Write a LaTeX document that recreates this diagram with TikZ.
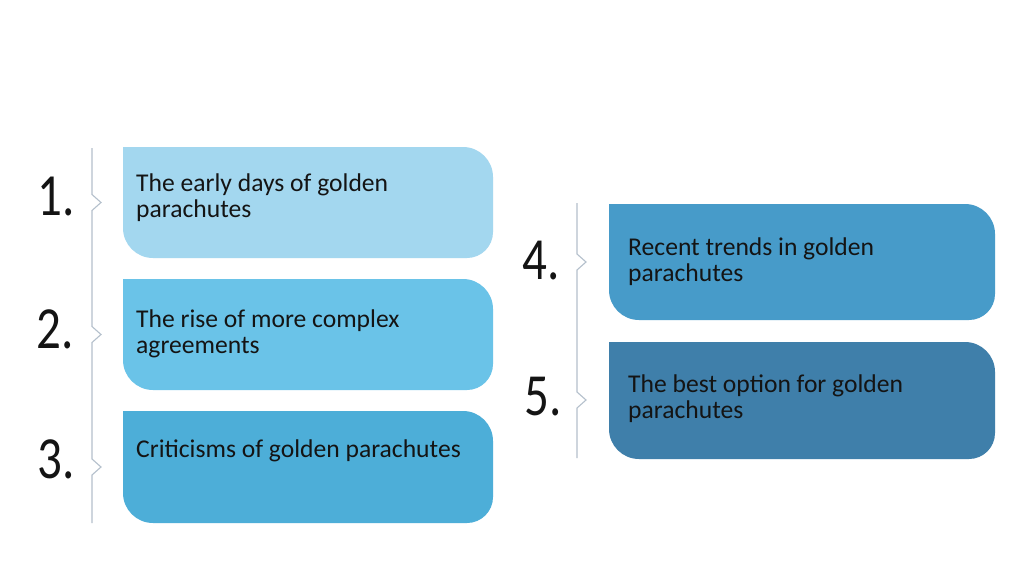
\documentclass[tikz,border=0pt]{standalone}
\usepackage{fontspec}
\setmainfont{Carlito}
\definecolor{cA}{HTML}{A3D7EF}
\definecolor{cB}{HTML}{6AC3E8}
\definecolor{cC}{HTML}{4DAED8}
\definecolor{cD}{HTML}{479BC9}
\definecolor{cE}{HTML}{3F7FAA}
\definecolor{brk}{HTML}{B4C0CC}
\definecolor{ink}{HTML}{141414}
\newcommand{\fancybox}[2]{%
  \fill[#2] (#1.north west) -- ([xshift=-30pt]#1.north east) arc[start angle=90,end angle=0,radius=30pt]
    -- ([yshift=26pt]#1.south east) arc[start angle=0,end angle=-90,radius=26pt]
    -- ([xshift=30pt]#1.south west) arc[start angle=270,end angle=180,radius=30pt] -- cycle;}
\tikzset{
  boxnode/.style={rectangle,inner sep=0pt,outer sep=0pt,minimum width=#1},
  txt/.style={inner sep=0pt,align=left,text=ink,font=\fontsize{25.6}{26}\selectfont,anchor=base west},
  num/.style={inner sep=0pt,text=ink,font=\fontsize{49}{49}\selectfont},
  bracket/.style={draw=brk,line width=1.1pt,line join=miter}
}
\begin{document}
\begin{tikzpicture}[x=1pt,y=-1pt]
\fill[white] (0,0) rectangle (1024,575);
\useasboundingbox (0,0) rectangle (1024,575);
% boxes
\node[boxnode=370pt,minimum height=111pt] (b1) at (308,202.5) {};
\node[boxnode=370pt,minimum height=111pt] (b2) at (308,334.5) {};
\node[boxnode=370pt,minimum height=112pt] (b3) at (308,467) {};
\node[boxnode=386pt,minimum height=116pt] (b4) at (802,262) {};
\node[boxnode=386pt,minimum height=117pt] (b5) at (802,400.5) {};
\fancybox{b1}{cA}
\fancybox{b2}{cB}
\fancybox{b3}{cC}
\fancybox{b4}{cD}
\fancybox{b5}{cE}
% texts (base anchor = baseline of last line)
\node[txt] (t1) at (136,217) {The early days of golden\\parachutes};
\node[txt] (t2) at (136,353) {The rise of more complex\\agreements};
\node[txt] (t3) at (136,457) {Criticisms of golden parachutes};
\node[txt] (t4) at (628,281) {Recent trends in golden\\parachutes};
\node[txt] (t5) at (628,418) {The best option for golden\\parachutes};
% numbers
\node[num] (n1) at (56,196) {\scalebox{1}[1.22]{1.}};
\node[num] (n2) at (55,329) {\scalebox{1}[1.22]{2.}};
\node[num] (n3) at (56,459) {\scalebox{1}[1.22]{3.}};
\node[num] (n4) at (541,261) {\scalebox{1}[1.22]{4.}};
\node[num] (n5) at (543,397) {\scalebox{1}[1.22]{5.}};
% brackets
\draw[bracket] (92,148) -- (92,194.5) -- (101,202.5) -- (92,210.5) -- (92,326.5) -- (101,334.5) -- (92,342.5)
  -- (92,459) -- (101,467) -- (92,475) -- (92,523);
\draw[bracket] (577,203) -- (577,254) -- (586,262) -- (577,270) -- (577,392) -- (586,400) -- (577,408) -- (577,458);
\end{tikzpicture}
\end{document}
